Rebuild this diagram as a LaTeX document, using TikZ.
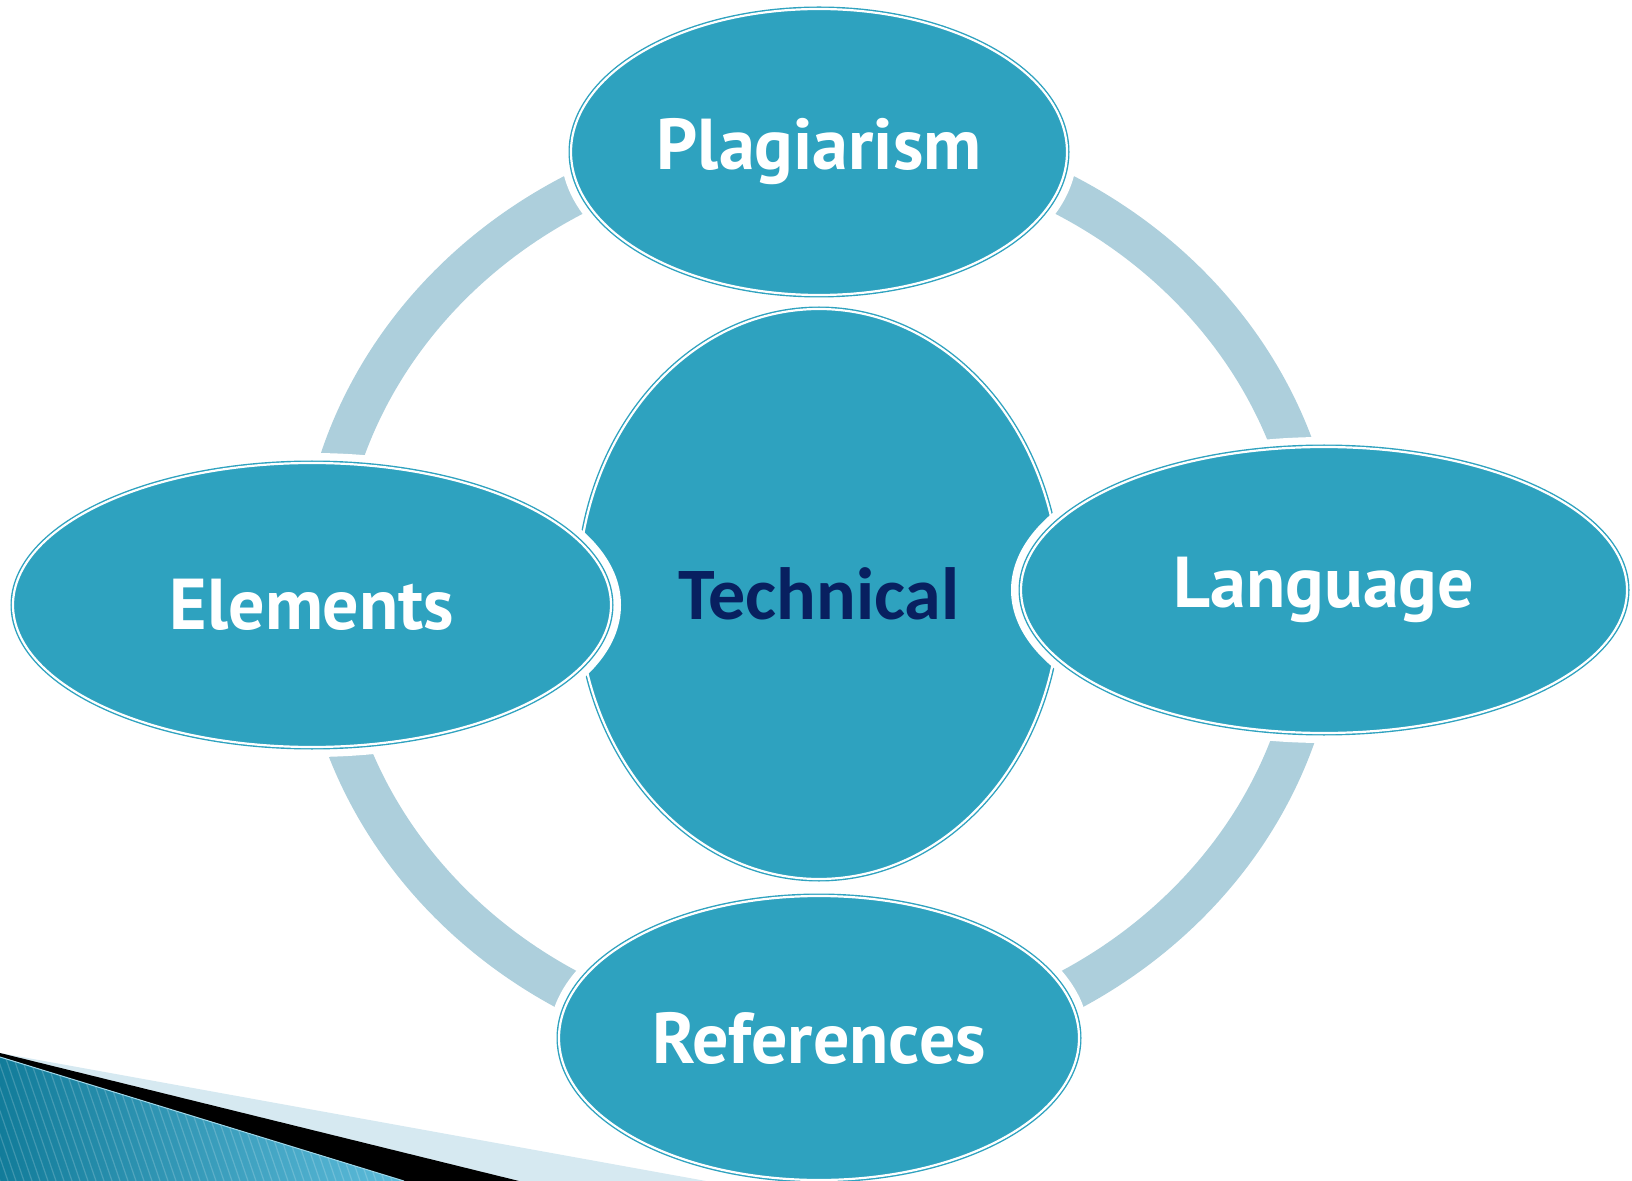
\documentclass[tikz,border=0pt]{standalone}
\usepackage{fontspec}
\setmainfont{PT Sans}
\newfontfamily\techfont{Carlito}
\usetikzlibrary{shapes.geometric}
\definecolor{tealfill}{RGB}{46,162,191}
\definecolor{ringblue}{RGB}{173,207,220}
\definecolor{navytext}{RGB}{8,32,96}
\definecolor{wedgepale}{RGB}{214,233,241}
\definecolor{stripedark}{RGB}{18,124,154}
\definecolor{stripelight}{RGB}{94,188,219}
\tikzset{
    topic/.style={ellipse, inner sep=0pt, fill=tealfill, text=white,
        font=\bfseries\fontsize{36}{40}\selectfont,
        preaction={draw=white, line width=10pt},
        postaction={draw=tealfill, line width=0.7pt, double=white, double distance=1.1pt}},
    hubtopic/.style={topic, text=navytext, font=\techfont\bfseries\fontsize{37}{40}\selectfont},
    ring/.style={draw=ringblue, line width=21pt},
    stripe/.style={draw=white, opacity=0.18, line width=0.6pt}
}
\begin{document}
\begin{tikzpicture}[x=0.5pt, y=-0.5pt]
\useasboundingbox (0,0) rectangle (1632,1181);

% Cycle ring
\coordinate (hub) at (819,594);
\draw[ring] (hub) ellipse [x radius=500, y radius=458];

% Centre node
\node[hubtopic, minimum width=241pt, minimum height=285pt] (tech) at (hub) {Technical};

% Outer nodes
\node[topic, minimum width=248pt, minimum height=143pt] (plag) at (819,152) {Plagiarism};
\node[topic, minimum width=260pt, minimum height=142pt] (refs) at (819,1038) {References};
\node[topic, minimum width=299pt, minimum height=142pt] (elem) at (312,605) {Elements};
\node[topic, minimum width=303pt, minimum height=143pt] (lang) at (1324,590) {Language};

% Corner wedges
\fill[wedgepale] (0,1053) -- (706,1181) -- (0,1181) -- cycle;
\fill[black] (0,1053) -- (519,1181) -- (0,1181) -- cycle;
\begin{scope}
  \clip (0,1057) -- (404,1181) -- (0,1181) -- cycle;
  \shade[left color=stripedark, right color=stripelight] (0,1050) rectangle (410,1181);
  \foreach \x in {-40,-32,...,460}
    \draw[stripe] (\x,1181) -- (\x-45,1050);
\end{scope}
\draw[stripelight!60!white, line width=0.5pt] (0,1057) -- (404,1181);
\end{tikzpicture}
\end{document}
